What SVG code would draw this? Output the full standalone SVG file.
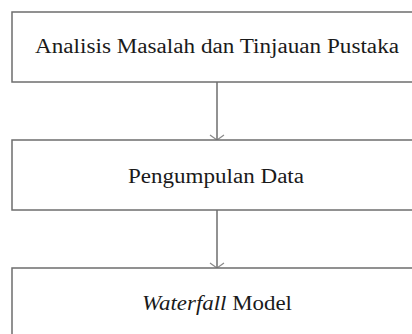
<svg xmlns="http://www.w3.org/2000/svg" width="412" height="334" viewBox="0 0 412 334">
<defs>
<style>
.box{fill:#ffffff;stroke:#6e6e6e;stroke-width:1.5}
.lbl{font-family:"Liberation Serif",serif;font-size:20px;fill:#1a1a1a;text-anchor:middle}
.con{stroke:#6e6e6e;stroke-width:1.5;fill:none}
.head{stroke:#8a8a8a;stroke-width:1.2;fill:none}
</style>
</defs>
<rect width="412" height="334" fill="#ffffff"/>
<g id="connectors">
<line class="con" x1="217" y1="82" x2="217" y2="140"/>
<polyline class="head" points="210,135 217,140 224,135"/>
<line class="con" x1="217" y1="210" x2="217" y2="268"/>
<polyline class="head" points="210,263 217,268 224,263"/>
</g>
<g id="node-analisis">
<rect class="box" x="12" y="12" width="412" height="70"/>
<text class="lbl" x="217" y="53" textLength="364" lengthAdjust="spacingAndGlyphs">Analisis Masalah dan Tinjauan Pustaka</text>
</g>
<g id="node-pengumpulan">
<rect class="box" x="12" y="140" width="412" height="70"/>
<text class="lbl" x="216" y="183" textLength="176" lengthAdjust="spacingAndGlyphs">Pengumpulan Data</text>
</g>
<g id="node-waterfall">
<rect class="box" x="12" y="268" width="412" height="80"/>
<text class="lbl" x="217" y="310" textLength="150" lengthAdjust="spacingAndGlyphs"><tspan font-style="italic">Waterfall</tspan> Model</text>
</g>
</svg>
